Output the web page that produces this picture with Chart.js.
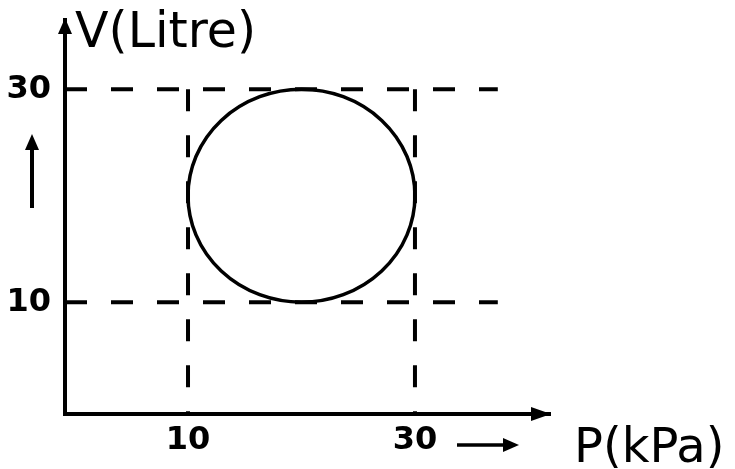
<!DOCTYPE html>
<html>
<head>
<meta charset="utf-8">
<script src="https://cdn.jsdelivr.net/npm/chart.js@4.4.1/dist/chart.umd.min.js"></script>
<style>
  html, body { margin: 0; padding: 0; background: #fff; }
  #wrap { width: 735px; height: 469px; position: relative; }
</style>
</head>
<body>
<div id="wrap"><canvas id="pv"></canvas></div>
<script>
"use strict";

// axis ticks (P in kPa, V in litre)
const pTicks = [10, 30];
const vTicks = [10, 30];

// dashed guide lines
const guideV = [10, 30];      // horizontal guides at these volumes
const guideP = [10, 30];      // vertical guides at these pressures
const guideEndP = 37.3;       // horizontal guides stop here
const guideTopV = 30;         // vertical guides start here

// the cyclic process: a circle in the P-V plane
const cycleCenter = [20, 20]; // [P, V]
const cycleRadius = 10;

// axis ranges
const pRange = [-0.84, 41.9];
const vRange = [-0.5, 36.5];

const INK = "#000";
const FONT = "'DejaVu Sans', sans-serif";

const guideSets = [];
guideV.forEach((v) => {
  guideSets.push({ data: [{ x: pRange[0], y: v }, { x: guideEndP, y: v }] });
});
guideP.forEach((p) => {
  guideSets.push({ data: [{ x: p, y: guideTopV }, { x: p, y: vRange[0] }] });
});

// circle + arrows + free text
const decor = {
  id: "decor",
  afterDatasetsDraw(chart) {
    const { ctx, chartArea: a, scales: { x, y } } = chart;
    ctx.save();
    ctx.strokeStyle = INK;
    ctx.fillStyle = INK;

    // cycle
    const cx = x.getPixelForValue(cycleCenter[0]);
    const cy = y.getPixelForValue(cycleCenter[1]);
    const rx = Math.abs(x.getPixelForValue(cycleCenter[0] + cycleRadius) - cx);
    const ry = Math.abs(y.getPixelForValue(cycleCenter[1] + cycleRadius) - cy);
    ctx.lineWidth = 3.5;
    ctx.beginPath();
    ctx.ellipse(cx, cy, rx, ry, 0, 0, Math.PI * 2);
    ctx.stroke();

    // axis arrow heads
    ctx.beginPath();
    ctx.moveTo(a.left, a.top - 2);
    ctx.lineTo(a.left - 7, a.top + 14);
    ctx.lineTo(a.left + 7, a.top + 14);
    ctx.closePath();
    ctx.fill();
    ctx.beginPath();
    ctx.moveTo(a.right + 1, a.bottom);
    ctx.lineTo(a.right - 19, a.bottom - 7);
    ctx.lineTo(a.right - 19, a.bottom + 7);
    ctx.closePath();
    ctx.fill();

    // small direction arrows next to the ticks
    ctx.lineWidth = 4;
    ctx.beginPath();
    ctx.moveTo(32, 208);
    ctx.lineTo(32, 145);
    ctx.stroke();
    ctx.beginPath();
    ctx.moveTo(32, 134);
    ctx.lineTo(25, 150);
    ctx.lineTo(39, 150);
    ctx.closePath();
    ctx.fill();

    ctx.lineWidth = 3.5;
    ctx.beginPath();
    ctx.moveTo(457, 445);
    ctx.lineTo(508, 445);
    ctx.stroke();
    ctx.beginPath();
    ctx.moveTo(519, 445);
    ctx.lineTo(503, 438);
    ctx.lineTo(503, 452);
    ctx.closePath();
    ctx.fill();

    // axis names
    ctx.textBaseline = "alphabetic";
    ctx.textAlign = "left";
    ctx.font = "49px " + FONT;
    ctx.fillText("V(Litre)", 75, 47);
    ctx.font = "48px " + FONT;
    ctx.fillText("P(kPa)", 574, 462);
    ctx.restore();
  },
};

const tickFont = { family: FONT, size: 32, weight: "bold" };

new Chart(document.getElementById("pv"), {
  type: "scatter",
  data: {
    datasets: guideSets.map((s) => ({
      data: s.data,
      showLine: true,
      borderColor: INK,
      borderWidth: 4,
      borderDash: [22, 24],
      pointRadius: 0,
      fill: false,
    })),
  },
  options: {
    responsive: true,
    maintainAspectRatio: false,
    animation: false,
    events: [],
    layout: { padding: { top: 20, right: 185, left: 0, bottom: 0 } },
    plugins: { legend: { display: false }, tooltip: { enabled: false } },
    scales: {
      x: {
        type: "linear",
        min: pRange[0],
        max: pRange[1],
        afterBuildTicks: (s) => { s.ticks = pTicks.map((v) => ({ value: v })); },
        afterFit: (s) => {
          s.height = 55;
          s.paddingLeft = 0;
          s.paddingRight = 0;
        },
        grid: { color: "rgba(0,0,0,0)", drawTicks: false },
        border: { display: true, color: INK, width: 4 },
        ticks: { color: INK, font: tickFont, padding: 7, maxRotation: 0 },
      },
      y: {
        type: "linear",
        min: vRange[0],
        max: vRange[1],
        afterBuildTicks: (s) => { s.ticks = vTicks.map((v) => ({ value: v })); },
        afterFit: (s) => {
          s.width = 65;
          s.paddingTop = 0;
          s.paddingBottom = 0;
        },
        grid: { color: "rgba(0,0,0,0)", drawTicks: false },
        border: { display: true, color: INK, width: 4 },
        ticks: { color: INK, font: tickFont, padding: 14 },
      },
    },
  },
  plugins: [decor],
});
</script>
</body>
</html>
